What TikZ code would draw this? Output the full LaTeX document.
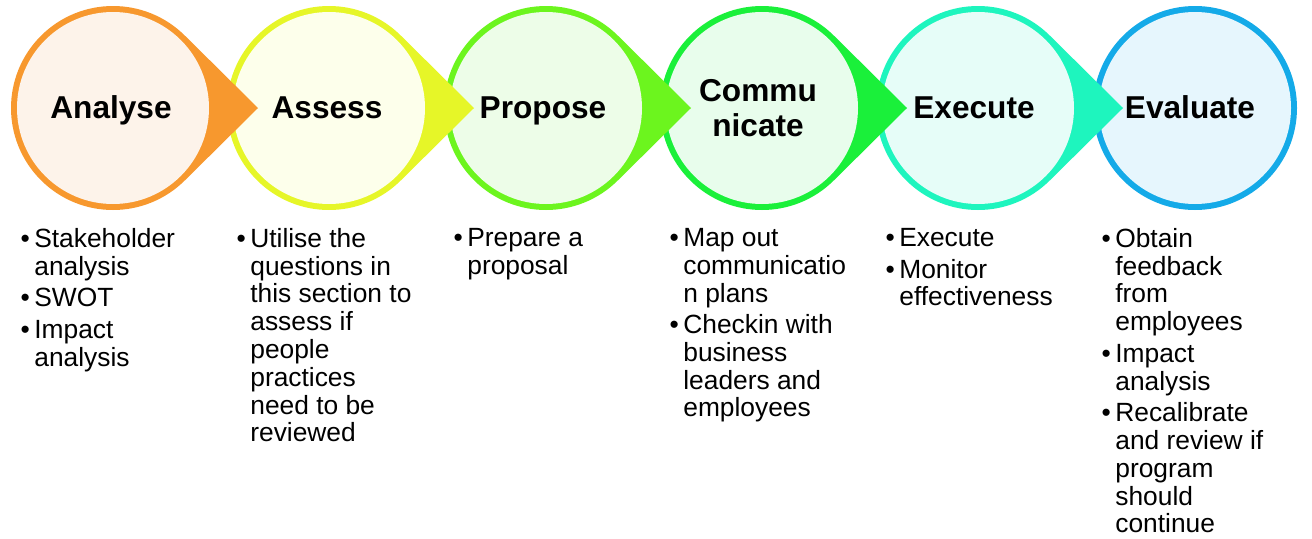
\documentclass[tikz,border=0pt]{standalone}
\usepackage{fontspec}
\setmainfont{Liberation Sans}
\usetikzlibrary{calc}

\definecolor{analyseline}{RGB}{247,152,46}
\definecolor{analysefill}{RGB}{253,243,234}
\definecolor{assessline}{RGB}{230,246,40}
\definecolor{assessfill}{RGB}{253,255,235}
\definecolor{proposeline}{RGB}{108,245,30}
\definecolor{proposefill}{RGB}{237,253,232}
\definecolor{commline}{RGB}{26,240,58}
\definecolor{commfill}{RGB}{232,253,236}
\definecolor{executeline}{RGB}{30,245,190}
\definecolor{executefill}{RGB}{230,253,248}
\definecolor{evaluateline}{RGB}{20,170,232}
\definecolor{evaluatefill}{RGB}{230,246,253}

% circle with a pointed tip to the right: [colour](centre)(tip distance)
\def\droparrow[#1](#2)(#3){\fill[#1] ($(#2)+(#3,0)$) -- ($(#2)+(45:102)$) arc (45:315:102) -- cycle;}

\tikzset{
	steptitle/.style={align=center, anchor=base, inner sep=0pt, font={\fontsize{18}{19.5}\selectfont\bfseries}},
	steplist/.style={align=left, anchor=north west, inner sep=0pt, font={\fontsize{15}{15.8}\selectfont}},
}

\begin{document}
\begin{tikzpicture}[x=0.02cm, y=-0.02cm]
			%%%%% START %%%%%
			\useasboundingbox (0, 0) rectangle (1312, 538);
			
			\coordinate (c1) at (113, 108);
			\coordinate (c2) at (329, 108);
			\coordinate (c3) at (546, 108);
			\coordinate (c4) at (762, 108);
			\coordinate (c5) at (978, 108);
			\coordinate (c6) at (1195, 108);
			
			% right to left, so each tip lies over the next circle
			\fill[evaluateline] (c6) circle (102);
			\fill[evaluatefill] (c6) circle (96);
			
			\droparrow[executeline](c5)(145);
			\fill[executefill] (c5) circle (96);
			
			\droparrow[commline](c4)(145);
			\fill[commfill] (c4) circle (96);
			
			\droparrow[proposeline](c3)(145);
			\fill[proposefill] (c3) circle (96);
			
			\droparrow[assessline](c2)(145);
			\fill[assessfill] (c2) circle (96);
			
			\droparrow[analyseline](c1)(145);
			\fill[analysefill] (c1) circle (96);
			
			\node[steptitle] (analyse) at ($(c1)+(-2, 10)$) {Analyse};
			\node[steptitle] (assess) at ($(c2)+(-2, 10)$) {Assess};
			\node[steptitle] (propose) at ($(c3)+(-3, 10)$) {Propose};
			\node[steptitle, anchor=center] (communicate) at ($(c4)+(-4, 0)$) {Commu\\nicate};
			\node[steptitle] (execute) at ($(c5)+(-4, 10)$) {Execute};
			\node[steptitle] (evaluate) at ($(c6)+(-5, 10)$) {Evaluate};
			
			\node[steplist] (analyselist) at (34, 228) {\llap{\textbullet\,}Stakeholder\\analysis\\[2.2pt]\llap{\textbullet\,}SWOT\\[2.2pt]\llap{\textbullet\,}Impact\\analysis};
			
			\node[steplist] (assesslist) at (250, 228) {\llap{\textbullet\,}Utilise the\\questions in\\this section to\\assess if\\people\\practices\\need to be\\reviewed};
			
			\node[steplist] (proposelist) at (467, 228) {\llap{\textbullet\,}Prepare a\\proposal};
			
			\node[steplist] (commlist) at (683, 228) {\llap{\textbullet\,}Map out\\communicatio\\n plans\\[2.2pt]\llap{\textbullet\,}Checkin with\\business\\leaders and\\employees};
			
			\node[steplist] (executelist) at (899, 228) {\llap{\textbullet\,}Execute\\[2.2pt]\llap{\textbullet\,}Monitor\\effectiveness};
			
			\node[steplist] (evaluatelist) at (1115, 228) {\llap{\textbullet\,}Obtain\\feedback\\from\\employees\\[2.2pt]\llap{\textbullet\,}Impact\\analysis\\[2.2pt]\llap{\textbullet\,}Recalibrate\\and review if\\program\\should\\continue};
			
			%%%%% END %%%%%
		\end{tikzpicture}
\end{document}
